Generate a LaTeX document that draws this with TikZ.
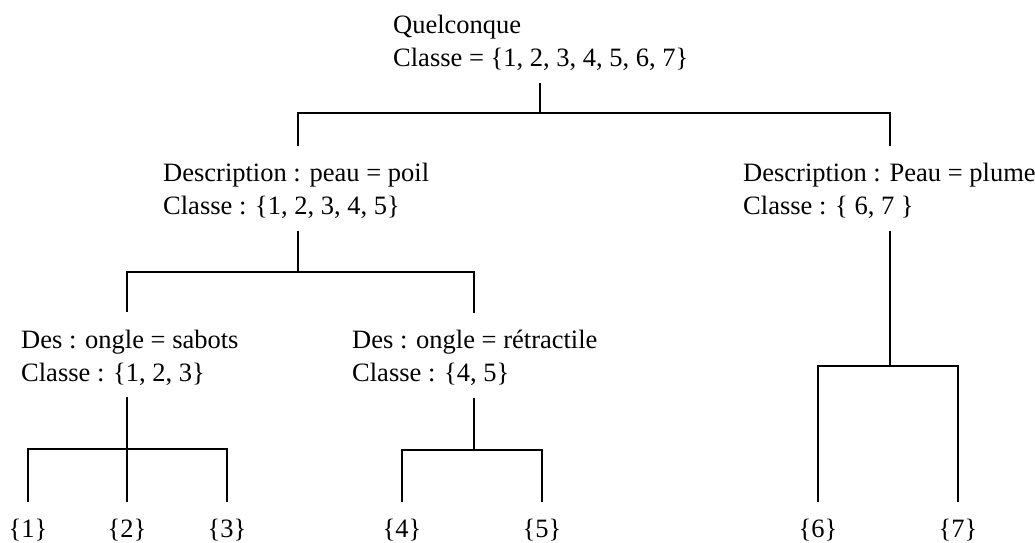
\documentclass[tikz,border=0pt]{standalone}
\usepackage{fontspec}
\setmainfont{Liberation Serif}
\begin{document}
\begin{tikzpicture}[x=1pt,y=-1pt,
  lbl/.style={inner sep=0pt,anchor=base west,font=\fontsize{26.5}{33}\selectfont},
  leaf/.style={inner sep=0pt,anchor=base,font=\fontsize{26.5}{33}\selectfont},
  edge/.style={line width=1.4pt,line cap=butt}]
\useasboundingbox (0,0) rectangle (1035,542);
% labels
\node[lbl] (root) at (393,33) {\begin{tabular}[t]{@{}l@{}}Quelconque\\Classe = \{1, 2, 3, 4, 5, 6, 7\}\end{tabular}};
\node[lbl] (poil) at (163,181) {\begin{tabular}[t]{@{}l@{}}Description : peau = poil\\Classe : \{1, 2, 3, 4, 5\}\end{tabular}};
\node[lbl] (plume) at (743,181) {\begin{tabular}[t]{@{}l@{}}Description : Peau = plume\\Classe : \{ 6, 7 \}\end{tabular}};
\node[lbl] (sabots) at (21,348) {\begin{tabular}[t]{@{}l@{}}Des : ongle = sabots\\Classe : \{1, 2, 3\}\end{tabular}};
\node[lbl] (retr) at (352,348) {\begin{tabular}[t]{@{}l@{}}Des : ongle = rétractile\\Classe : \{4, 5\}\end{tabular}};
\node[leaf] (f1) at (28,537) {\{1\}};
\node[leaf] (f2) at (127,537) {\{2\}};
\node[leaf] (f3) at (227,537) {\{3\}};
\node[leaf] (f4) at (402,537) {\{4\}};
\node[leaf] (f5) at (542,537) {\{5\}};
\node[leaf] (f6) at (818,537) {\{6\}};
\node[leaf] (f7) at (958,537) {\{7\}};
% connector ends
\coordinate (root-s) at (540,83);  \coordinate (root-j) at (540,113);
\coordinate (poil-t) at (298,146); \coordinate (plume-t) at (890,146);
\coordinate (poil-s) at (298,231); \coordinate (poil-j) at (298,272);
\coordinate (sabots-t) at (127,312); \coordinate (retr-t) at (474,313);
\coordinate (plume-s) at (890,231); \coordinate (plume-j) at (890,366);
\coordinate (sabots-s) at (127,397); \coordinate (sabots-j) at (127,449);
\coordinate (retr-s) at (474,398); \coordinate (retr-j) at (474,450);
\coordinate (f1-t) at (28,502); \coordinate (f2-t) at (127,502); \coordinate (f3-t) at (227,502);
\coordinate (f4-t) at (402,502); \coordinate (f5-t) at (542,502);
\coordinate (f6-t) at (818,502); \coordinate (f7-t) at (958,502);
% connectors
\draw[edge] (root-s) -- (root-j);
\draw[edge] (poil-t) |- (root-j) -| (plume-t);
\draw[edge] (poil-s) -- (poil-j);
\draw[edge] (sabots-t) |- (poil-j) -| (retr-t);
\draw[edge] (plume-s) -- (plume-j);
\draw[edge] (f6-t) |- (plume-j) -| (f7-t);
\draw[edge] (sabots-s) -- (sabots-j);
\draw[edge] (f1-t) |- (sabots-j) -| (f3-t);
\draw[edge] (sabots-j) -- (f2-t);
\draw[edge] (retr-s) -- (retr-j);
\draw[edge] (f4-t) |- (retr-j) -| (f5-t);
\end{tikzpicture}
\end{document}
